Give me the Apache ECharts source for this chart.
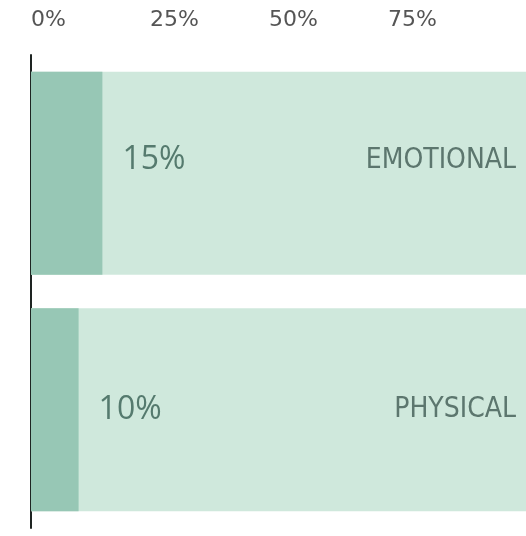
<!DOCTYPE html>
<html>
<head>
<meta charset="utf-8">
<script src="https://cdn.jsdelivr.net/npm/echarts@6/dist/echarts.min.js"></script>
<style>
  html, body { margin: 0; padding: 0; background: #ffffff; }
  #chart { width: 526px; height: 536px; }
</style>
</head>
<body>
<div id="chart"></div>
<script>
// Share of respondents reporting each kind of abuse
const categories = ['EMOTIONAL', 'PHYSICAL'];
const shares = [15, 10];
const tickValues = [0, 25, 50, 75];

// Vertical nudge (px) of the in-bar labels, per row
const labelLift = [13, 0];

const chart = echarts.init(document.getElementById('chart'), null, { renderer: 'canvas' });

const valueText = '#557a6e';
const nameText = '#5c766e';

chart.setOption({
  animation: false,
  grid: { left: 31, right: 0, top: 55, bottom: 8, containLabel: false },
  xAxis: {
    type: 'value',
    position: 'top',
    min: 0,
    max: 104,
    interval: 25,
    axisLine: { show: false },
    axisTick: { show: false },
    splitLine: { show: false },
    axisLabel: {
      customValues: tickValues,
      formatter: v => v + '%',
      align: 'left',
      margin: 24,
      color: '#555555',
      fontSize: 22,
      fontFamily: "'DejaVu Sans', sans-serif"
    }
  },
  yAxis: [
    {
      type: 'category',
      inverse: true,
      data: categories,
      axisLine: { show: true, lineStyle: { color: '#1e2422', width: 2 } },
      axisTick: { show: false },
      axisLabel: { show: false },
      splitLine: { show: false }
    },
    {
      type: 'category',
      inverse: true,
      position: 'right',
      data: categories,
      z: 10,
      axisLine: { show: false },
      axisTick: { show: false },
      splitLine: { show: false },
      axisLabel: {
        inside: true,
        margin: 10,
        formatter: (v, i) => '{r' + i + '|' + v + '}',
        rich: Object.fromEntries(labelLift.map((d, i) => ['r' + i, {
          color: nameText,
          fontSize: 28,
          fontFamily: "'DejaVu Sans Condensed', 'Liberation Sans Narrow', sans-serif",
          padding: [0, 0, 2 * d, 0]
        }]))
      }
    }
  ],
  series: [{
    type: 'bar',
    yAxisIndex: 0,
    barCategoryGap: '14.2%',
    showBackground: true,
    backgroundStyle: { color: '#cfe8dc' },
    itemStyle: { color: '#97c7b5' },
    data: shares.map((v, i) => ({
      value: v,
      label: { offset: [0, -labelLift[i]] }
    })),
    label: {
      show: true,
      position: 'right',
      distance: 20,
      formatter: p => p.value + '%',
      color: valueText,
      fontSize: 32,
      fontFamily: "'Open Sans', sans-serif"
    }
  }]
});
</script>
</body>
</html>
